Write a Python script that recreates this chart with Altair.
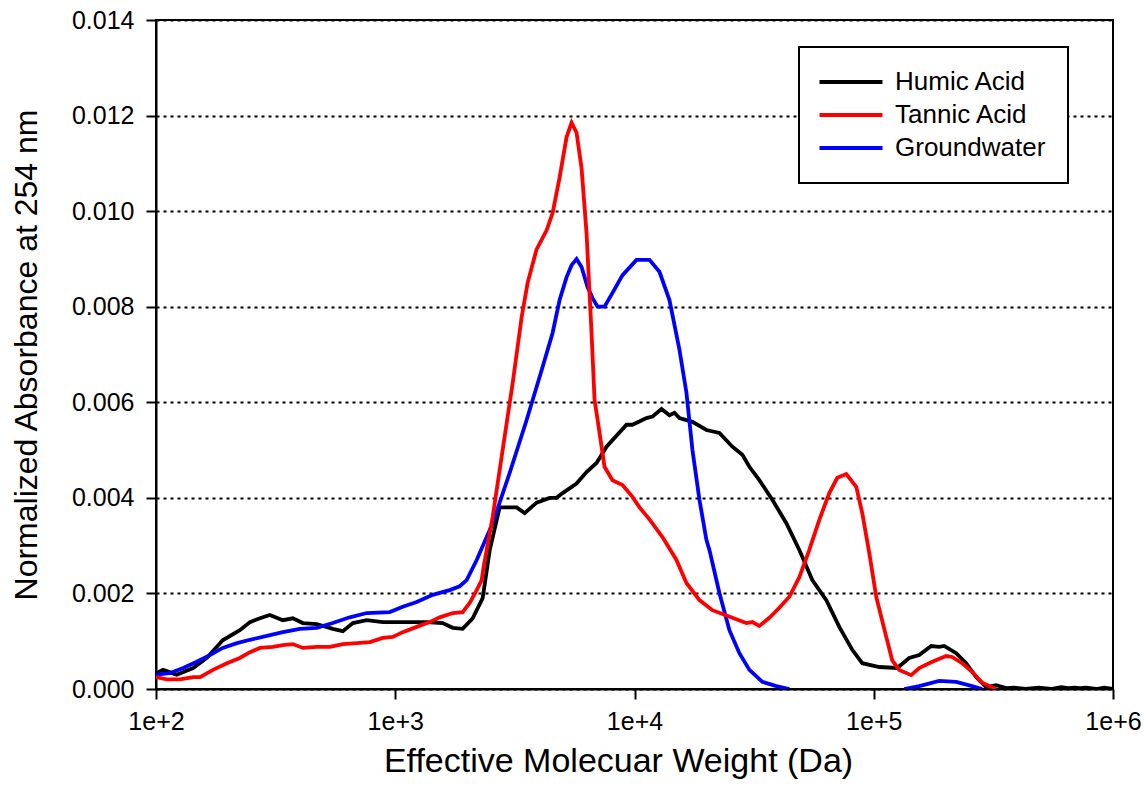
import altair as alt
import pandas as pd

# Humic Acid
humic_mw = [100, 107, 122, 143, 163, 190, 224, 247, 272, 299, 339, 373, 411, 470, 548, 604, 665, 760, 887,
            1075, 1354, 1579, 1739, 1913, 2107, 2319, 2481, 2731, 3217, 3474, 3897, 4417, 4724, 5005, 5726,
            6303, 6940, 7640, 9261, 9809, 11222, 11890, 12963, 14000, 14690, 15413, 17467, 19979, 22642,
            25656, 28244, 30215, 33258, 37683, 43117, 48866, 55354, 63343, 71774, 81329, 89537, 105434,
            125358, 140679, 154882, 173848, 187714, 196956, 221040, 243350, 267905, 294946, 324774, 357432,
            386000, 430000, 490900, 550000, 606800, 650000, 687600, 730000, 771600, 850000, 917200, 1000000]
humic_abs = [0.00033, 0.0004, 0.0003, 0.00044, 0.00065, 0.00102, 0.00123, 0.0014, 0.00148, 0.00155, 0.00144,
             0.00148, 0.00138, 0.00136, 0.00126, 0.00121, 0.00138, 0.00144, 0.0014, 0.0014, 0.0014, 0.00138,
             0.00128, 0.00126, 0.00148, 0.0019, 0.0029, 0.0038, 0.0038, 0.00368, 0.0039, 0.004, 0.004, 0.0041,
             0.0043, 0.00454, 0.00473, 0.00507, 0.00553, 0.00553, 0.00567, 0.0057, 0.00586, 0.00573, 0.00578,
             0.00567, 0.00559, 0.00542, 0.00536, 0.00507, 0.0049, 0.00465, 0.00437, 0.00396, 0.00347, 0.00291,
             0.00228, 0.00186, 0.0013, 0.00082, 0.00054, 0.00046, 0.00044, 0.00065, 0.00071, 0.0009, 0.00088,
             0.0009, 0.00075, 0.00054, 0.00025, 0.00004, 0.00008, 0.00002, 0.00003, 0.0, 0.00003, 0.0, 0.00004,
             0.00002, 0.00003, 0.00002, 0.00003, 0.0, 0.00003, 0.0]

# Tannic Acid
tannic_mw = [100, 111, 126, 143, 153, 173, 198, 224, 247, 272, 308, 339, 373, 411, 470, 533, 604, 691, 783,
             887, 976, 1075, 1229, 1393, 1534, 1739, 1913, 2047, 2190, 2297, 2340, 2553, 2811, 3095, 3375,
             3575, 3897, 4291, 4546, 4863, 5201, 5458, 5726, 6008, 6303, 6614, 6808, 7144, 7493, 8092, 8911,
             9809, 10493, 11551, 13089, 14974, 16487, 18682, 21167, 25656, 29353, 31098, 33258, 36614, 40307,
             44380, 48866, 53783, 59213, 65193, 70408, 76774, 84519, 89537, 95770, 102423, 112773, 119468,
             127800, 143414, 154882, 175528, 200770, 212700, 234182, 257811, 283804, 324774]
tannic_abs = [0.00025, 0.0002, 0.0002, 0.00025, 0.00025, 0.0004, 0.00054, 0.00065, 0.00077, 0.00086, 0.00088,
              0.00092, 0.00094, 0.00086, 0.00088, 0.00088, 0.00094, 0.00096, 0.00098, 0.00107, 0.00109,
              0.00119, 0.0013, 0.0014, 0.0015, 0.00159, 0.00161, 0.0018, 0.00207, 0.00228, 0.00255, 0.0036,
              0.005, 0.0064, 0.00778, 0.0085, 0.0092, 0.0096, 0.00996, 0.0107, 0.01155, 0.01185, 0.01164,
              0.0109, 0.00954, 0.00745, 0.00605, 0.00536, 0.00465, 0.00437, 0.00427, 0.00402, 0.0038,
              0.00355, 0.00318, 0.0027, 0.00222, 0.00186, 0.00165, 0.00149, 0.00138, 0.0014, 0.00132,
              0.00149, 0.0017, 0.00193, 0.00234, 0.00291, 0.00354, 0.0041, 0.00442, 0.0045, 0.00423, 0.00368,
              0.00285, 0.00193, 0.00109, 0.0006, 0.0004, 0.00029, 0.00044, 0.00057, 0.00069, 0.00067, 0.00054,
              0.00036, 0.00013, 0.0]

# Groundwater (two separate traces)
ground_mw_1 = [100, 114, 130, 148, 168, 190, 218, 247, 291, 339, 399, 470, 548, 646, 760, 949, 1075, 1229,
               1434, 1689, 1859, 1988, 2190, 2553, 3007, 3541, 4129, 4546, 4863, 5201, 5458, 5726, 6008,
               6364, 6678, 7007, 7493, 8092, 8911, 10194, 11551, 12717, 14000, 15413, 16487, 17467, 18682,
               19979, 20566, 22642, 24930, 27442, 30215, 34229, 39161, 44380]
ground_abs_1 = [0.0003, 0.00033, 0.00044, 0.00057, 0.00071, 0.00086, 0.00096, 0.00103, 0.00111, 0.00119,
                0.00126, 0.00128, 0.00138, 0.0015, 0.00159, 0.00161, 0.00172, 0.00182, 0.00197, 0.00207,
                0.00215, 0.00228, 0.0027, 0.00347, 0.00452, 0.00563, 0.00674, 0.00745, 0.00814, 0.00862,
                0.00887, 0.009, 0.00883, 0.00841, 0.00818, 0.008, 0.008, 0.00829, 0.00866, 0.00898, 0.00898,
                0.00873, 0.00814, 0.0071, 0.0062, 0.005, 0.00396, 0.00312, 0.00291, 0.00201, 0.00123, 0.00075,
                0.0004, 0.00015, 0.00006, 0.0]
ground_mw_2 = [134073, 154882, 187714, 221040, 257811, 283804]
ground_abs_2 = [0.0, 0.00006, 0.00017, 0.00015, 0.00006, 0.0]

series_names = ["Humic Acid", "Tannic Acid", "Groundwater"]
series_colors = ["#000000", "#ff0000", "#0000ff"]

rows = []
for m, a in zip(humic_mw, humic_abs):
    rows.append({"mw": m, "abs": a, "series": "Humic Acid", "seg": "h", "ord": 0})
for m, a in zip(ground_mw_1, ground_abs_1):
    rows.append({"mw": m, "abs": a, "series": "Groundwater", "seg": "g1", "ord": 1})
for m, a in zip(ground_mw_2, ground_abs_2):
    rows.append({"mw": m, "abs": a, "series": "Groundwater", "seg": "g2", "ord": 1})
for m, a in zip(tannic_mw, tannic_abs):
    rows.append({"mw": m, "abs": a, "series": "Tannic Acid", "seg": "t", "ord": 2})
df = pd.DataFrame(rows)

FONT = "Liberation Sans"

chart = alt.Chart(df).mark_line(strokeWidth=3.8, interpolate="linear", clip=True).encode(
    x=alt.X("mw:Q",
            scale=alt.Scale(type="log", domain=[100, 1000000], nice=False),
            axis=alt.Axis(title="Effective Molecuar Weight (Da)",
                          values=[100, 1000, 10000, 100000, 1000000],
                          format=".0e", grid=False, labelFlush=False,
                          labelPadding=10, titlePadding=10, titleFontSize=34, titleX=462)),
    y=alt.Y("abs:Q",
            scale=alt.Scale(domain=[0, 0.014], nice=False),
            axis=alt.Axis(title="Normalized Absorbance at 254 nm",
                          values=[0, 0.002, 0.004, 0.006, 0.008, 0.010, 0.012, 0.014],
                          format=".3f", grid=True, gridColor="#000000", gridDash=[3, 4],
                          gridWidth=2, labelPadding=12, titlePadding=28, titleFontSize=32)),
    color=alt.Color("series:N",
                    scale=alt.Scale(domain=series_names, range=series_colors),
                    legend=alt.Legend(title=None, orient="none", legendX=643, legendY=27,
                                      strokeColor="#000000", fillColor="#ffffff",
                                      padding=22, labelFontSize=26, labelFont=FONT,
                                      labelColor="#000000", labelOffset=48,
                                      symbolType="M-1.38,0H4.62", symbolSize=441,
                                      symbolStrokeWidth=4, rowPadding=7)),
    detail="seg:N",
    order="ord:Q",
).properties(
    width=957, height=669,
    padding={"left": 156, "top": 20, "right": 31, "bottom": 113},
    autosize=alt.AutoSizeParams(type="none"),
).configure_view(
    stroke="#000000", strokeWidth=2
).configure_axis(
    domainColor="#000000", domainWidth=2, tickColor="#000000", tickWidth=2, tickSize=10,
    labelFont=FONT, labelFontSize=25, labelColor="#000000",
    titleFont=FONT, titleFontWeight="normal", titleColor="#000000",
).configure_legend(
    strokeWidth=2
)

chart.save("out.html", embed_options={"renderer": "svg", "actions": False})
